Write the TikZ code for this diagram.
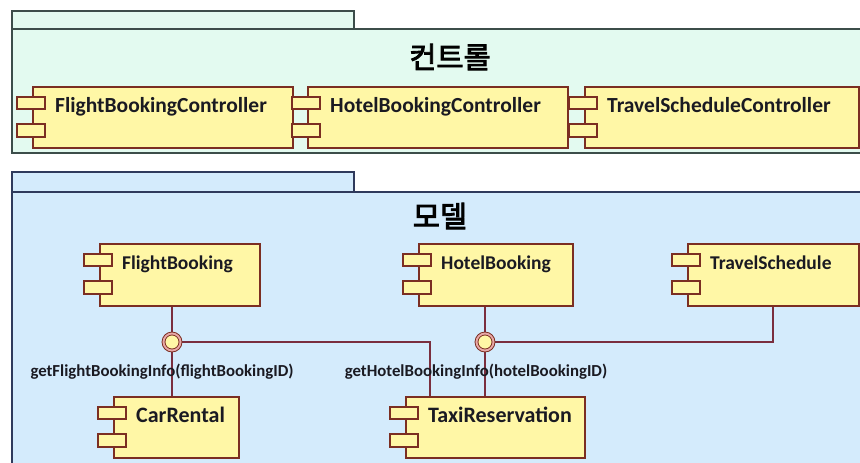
\documentclass[tikz,border=0pt]{standalone}
\usepackage{fontspec}
\setmainfont{Carlito}
\newfontfamily\kor[FakeBold=3]{Noto Sans CJK KR}
\definecolor{mintfill}{HTML}{E3FAF0}
\definecolor{mintline}{HTML}{3C4D4A}
\definecolor{bluefill}{HTML}{D4EBFC}
\definecolor{blueline}{HTML}{2F3A5C}
\definecolor{compyellow}{HTML}{FFF7A6}
\definecolor{dkred}{HTML}{7B2E22}
\definecolor{lnred}{HTML}{7A2E3E}
\definecolor{ringpink}{HTML}{E8A8A8}
\definecolor{txt}{HTML}{1A1A22}
\tikzset{
  ctrlpkg/.style={draw=mintline, fill=mintfill, line width=1.6pt},
  modelpkg/.style={draw=blueline, fill=bluefill, line width=1.6pt},
  comp/.style={draw=dkred, fill=compyellow, line width=1.5pt, inner sep=0pt, anchor=north west},
  port/.style={draw=dkred, fill=compyellow, line width=1.5pt},
  ctext/.style={inner sep=0pt, text=txt, font=\bfseries},
  conn/.style={draw=lnred, line width=1.8pt},
  ifcouter/.style={circle, draw=dkred, fill=ringpink, line width=0.8pt, minimum size=20pt, inner sep=0pt},
  ifcinner/.style={circle, draw=dkred, fill=compyellow, line width=0.8pt, minimum size=14pt, inner sep=0pt},
  lbl/.style={inner sep=0pt, text=txt, font=\bfseries\fontsize{16.8}{18}\selectfont},
  title/.style={inner sep=0pt, text=black, font=\kor\fontsize{29.5}{32}\selectfont}
}
\newcommand{\umlcomp}[7]{%
  \node[comp, minimum width=#4pt, minimum height=#5pt] (#1) at (#2,#3) {};
  \draw[port] ([xshift=-15pt,yshift=-11pt]#1.north west) rectangle ++(28pt,-12pt);
  \draw[port] ([xshift=-15pt,yshift=-38pt]#1.north west) rectangle ++(28pt,-13pt);
  \node[ctext, anchor=base west] (#1-t) at ([xshift=23pt,yshift=-26pt]#1.north west) {\fontsize{#7}{#7}\selectfont #6};
}
\begin{document}
\begin{tikzpicture}[x=1pt,y=-1pt]
\useasboundingbox (0,0) rectangle (860,463);
\clip (0,0) rectangle (860,463);
\fill[white] (0,0) rectangle (860,463);
% packages
\draw[ctrlpkg] (12,11) rectangle (354,29);
\draw[ctrlpkg] (12,29) rectangle (880,153);
\draw[modelpkg] (12,172) rectangle (354,192);
\draw[modelpkg] (12,192) rectangle (880,480);
\node[title] (ctitle) at (450,57) {컨트롤};
\node[title] (mtitle) at (440,216) {모델};
% controllers
\umlcomp{fbc}{32}{86}{260}{61}{FlightBookingController}{21.5}
\umlcomp{hbc}{307}{86}{260}{61}{HotelBookingController}{21.5}
\umlcomp{tsc}{584}{86}{274}{61}{TravelScheduleController}{21.5}
% interface points
\coordinate (p1) at (172,342);
\coordinate (p2) at (485,342);
\coordinate (k1) at (430,342);
\coordinate (k2) at (773,342);
% model components
\umlcomp{fb}{99}{243}{160}{62}{FlightBooking}{19.5}
\umlcomp{hb}{418}{243}{154}{62}{HotelBooking}{19.5}
\umlcomp{ts}{687}{243}{171}{62}{TravelSchedule}{19.5}
\umlcomp{car}{113}{396}{125}{61}{CarRental}{22}
\umlcomp{taxi}{405}{396}{179}{61}{TaxiReservation}{22}
% connectors
\draw[conn] (fb.south -| p1) -- (p1);
\draw[conn] (p1) -- (car.north -| p1);
\draw[conn] (p1) -- (k1) -- (k1 |- taxi.north);
\draw[conn] (hb.south -| p2) -- (p2);
\draw[conn] (p2) -- (taxi.north -| p2);
\draw[conn] (p2) -- (k2) -- (k2 |- ts.south);
% interfaces
\node[ifcouter] (i1) at (p1) {};
\node[ifcinner] (i1c) at (p1) {};
\node[ifcouter] (i2) at (p2) {};
\node[ifcinner] (i2c) at (p2) {};
% labels
\node[lbl] (l1) at (162,372) {getFlightBookingInfo(flightBookingID)};
\node[lbl] (l2) at (476,372) {getHotelBookingInfo(hotelBookingID)};
\end{tikzpicture}
\end{document}
